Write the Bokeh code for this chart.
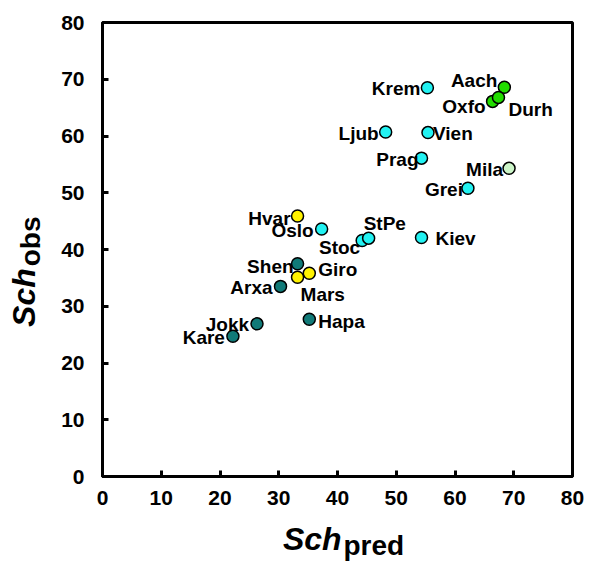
import math
from bokeh.plotting import figure
from bokeh.layouts import row, column
from bokeh.models import Range1d, FixedTicker, Label, ColumnDataSource
from bokeh.embed import file_html
from bokeh.resources import INLINE

# ---- data ----
names = ["Krem", "Aach", "Oxfo", "Durh", "Ljub", "Vien", "Prag", "Mila", "Grei",
         "Hvar", "Oslo", "Stoc", "StPe", "Kiev", "Shen", "Giro", "Mars", "Arxa",
         "Hapa", "Jokk", "Kare"]
sch_pred = [55.3, 68.4, 66.4, 67.4, 48.2, 55.4, 54.3, 69.2, 62.2,
            33.2, 37.3, 44.2, 45.3, 54.3, 33.2, 35.2, 33.2, 30.3,
            35.2, 26.3, 22.2]
sch_obs = [68.5, 68.6, 66.1, 66.8, 60.7, 60.6, 56.1, 54.3, 50.8,
           45.9, 43.6, 41.6, 42.0, 42.1, 37.5, 35.8, 35.1, 33.5,
           27.7, 26.9, 24.7]
groups = ["cyan", "green", "green", "green", "cyan", "cyan", "cyan", "pale", "cyan",
          "yellow", "cyan", "cyan", "cyan", "cyan", "teal", "yellow", "yellow", "teal",
          "teal", "teal", "teal"]
ticks = [0, 10, 20, 30, 40, 50, 60, 70, 80]
x_title = ("Sch", "pred")
y_title = ("Sch", "obs")

# ---- styles ----
palette = {"cyan": "#22F2F2", "green": "#22DD00", "pale": "#CCF5C8",
           "yellow": "#FFF200", "teal": "#117A78"}
# label placement: (align, dx px, dy px downward)
placement = {
    "Krem": ("right", -7, 1), "Aach": ("right", -7, -7), "Oxfo": ("right", -7, 5),
    "Durh": ("left", 10, 12), "Ljub": ("right", -7, 1), "Vien": ("left", 5, 1),
    "Prag": ("right", -3, 1), "Mila": ("right", -6, 1), "Grei": ("right", -5, 1),
    "Hvar": ("right", -7, 2), "Oslo": ("right", -8, 1), "Stoc": ("right", -2, 7),
    "StPe": ("left", -5, -15), "Kiev": ("left", 14, 1), "Shen": ("right", -4, 3),
    "Giro": ("left", 9, -4), "Mars": ("left", 3, 17), "Arxa": ("right", -8, 1),
    "Hapa": ("left", 9, 2), "Jokk": ("right", -8, 1), "Kare": ("right", -8, 1),
}
FONT = "Liberation Sans"
LEFT_W, BOTTOM_H = 45, 45
W, H = 589, 565


def blank(**kw):
    f = figure(output_backend="svg", toolbar_location=None,
               x_axis_type=None, y_axis_type=None, **kw)
    f.grid.visible = False
    f.outline_line_color = None
    f.background_fill_color = "white"
    f.border_fill_color = "white"
    return f


p = figure(width=W - LEFT_W, height=H - BOTTOM_H, output_backend="svg",
           toolbar_location=None, x_range=Range1d(0, 80), y_range=Range1d(0, 80),
           min_border_left=102 - LEFT_W, min_border_right=17, min_border_top=22,
           min_border_bottom=89 - BOTTOM_H)
p.grid.visible = False
p.outline_line_color = "black"
p.outline_line_width = 3
p.outline_line_alpha = 1
p.background_fill_color = "white"
p.border_fill_color = "white"

for ax in (p.xaxis[0], p.yaxis[0]):
    ax.ticker = FixedTicker(ticks=ticks)
    ax.axis_line_width = 3
    ax.axis_line_color = "black"
    ax.major_tick_in = 6
    ax.major_tick_out = 0
    ax.major_tick_line_width = 3
    ax.minor_tick_line_color = None
    ax.major_label_text_font = FONT
    ax.major_label_text_font_style = "bold"
    ax.major_label_text_font_size = "21px"
    ax.major_label_text_color = "black"
p.xaxis[0].major_label_standoff = 14
p.yaxis[0].major_label_standoff = 18

src = ColumnDataSource(dict(x=sch_pred, y=sch_obs, name=names,
                            color=[palette[g] for g in groups]))
p.scatter("x", "y", source=src, size=12, fill_color="color",
          line_color="black", line_width=1.5)

for n, xv, yv in zip(names, sch_pred, sch_obs):
    al, dx, dy = placement[n]
    p.add_layout(Label(x=xv, y=yv, text=n, x_offset=dx, y_offset=-dy,
                       text_align=al, text_baseline="middle",
                       text_font=FONT, text_font_style="bold",
                       text_font_size="19px", text_color="black"))

# x-axis title strip (shares the x scale of the chart)
xt = blank(width=W - LEFT_W, height=BOTTOM_H, x_range=p.x_range,
           y_range=Range1d(0, BOTTOM_H), min_border_left=102 - LEFT_W,
           min_border_right=17, min_border_top=0, min_border_bottom=0)
xt.add_layout(Label(x=40.7, y=27, text=x_title[0], text_align="right",
                    text_baseline="middle", text_font=FONT, text_color="black",
                    text_font_style="bold italic", text_font_size="32px"))
xt.add_layout(Label(x=41.0, y=20, text=x_title[1], text_align="left",
                    text_baseline="middle", text_font=FONT, text_color="black",
                    text_font_style="bold", text_font_size="28px"))

# y-axis title strip (shares the y scale of the chart)
yt = blank(width=LEFT_W, height=H, x_range=Range1d(0, LEFT_W), y_range=p.y_range,
           min_border_left=0, min_border_right=0, min_border_top=22,
           min_border_bottom=89)
yt.add_layout(Label(x=23, y=36.7, text=y_title[0], text_align="right",
                    text_baseline="middle", angle=math.pi / 2,
                    text_font=FONT, text_font_style="bold italic", text_color="black",
                    text_font_size="32px"))
yt.add_layout(Label(x=30, y=37.05, text=y_title[1], text_align="left",
                    text_baseline="middle", angle=math.pi / 2,
                    text_font=FONT, text_font_style="bold", text_color="black",
                    text_font_size="28px"))

layout = row(yt, column(p, xt, spacing=0), spacing=0)
open("out.html", "w").write(file_html(layout, INLINE))
